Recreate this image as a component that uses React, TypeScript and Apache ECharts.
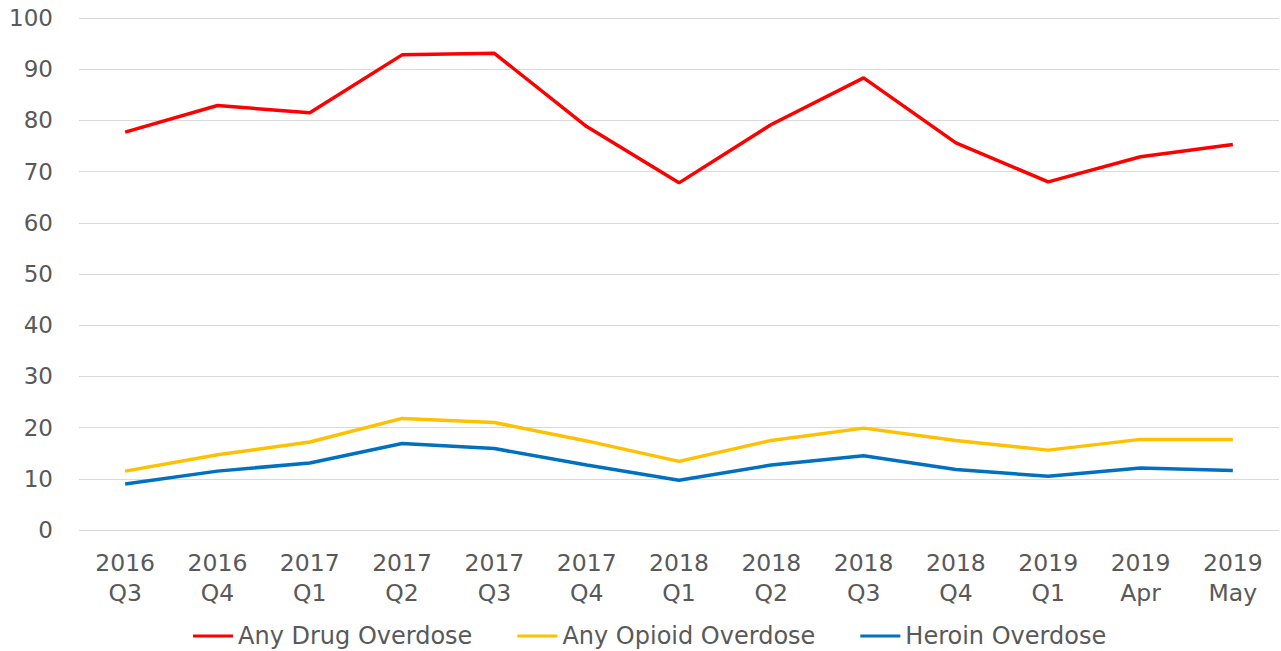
import React, { useEffect, useRef } from "react";
import * as echarts from "echarts";

const categories = [
  "2016\nQ3", "2016\nQ4", "2017\nQ1", "2017\nQ2", "2017\nQ3", "2017\nQ4",
  "2018\nQ1", "2018\nQ2", "2018\nQ3", "2018\nQ4", "2019\nQ1", "2019\nApr", "2019\nMay",
];
const anyDrug = [77.7, 82.9, 81.5, 92.8, 93.1, 78.8, 67.8, 79.2, 88.3, 75.6, 68.0, 72.9, 75.3];
const anyOpioid = [11.5, 14.7, 17.2, 21.8, 21.0, 17.4, 13.4, 17.5, 19.9, 17.5, 15.6, 17.7, 17.7];
const heroin = [9.0, 11.5, 13.1, 16.9, 15.9, 12.7, 9.7, 12.7, 14.5, 11.8, 10.5, 12.1, 11.6];

const FONT = "DejaVu Sans, Verdana, sans-serif";
const GRAY = "#595959";

export default function App() {
  const ref = useRef<HTMLDivElement>(null);
  useEffect(() => {
    const chart = echarts.init(ref.current!, undefined, { renderer: "svg" });
    const mk = (name: string, data: number[], color: string) => ({
      name,
      type: "line",
      data,
      symbol: "none",
      lineStyle: { color, width: 3.5 },
      itemStyle: { color },
    });
    chart.setOption({
      animation: false,
      grid: { left: 79, right: 2, top: 18, bottom: 121, containLabel: false },
      legend: {
        top: 624,
        left: 193,
        icon: "rect",
        itemWidth: 40,
        itemHeight: 3,
        itemGap: 45,
        padding: 0,
        textStyle: { color: GRAY, fontSize: 24, fontFamily: FONT },
        data: ["Any Drug Overdose", "Any Opioid Overdose", "Heroin Overdose"],
      },
      xAxis: {
        type: "category",
        data: categories,
        boundaryGap: true,
        axisLine: { show: false },
        axisTick: { show: false },
        axisLabel: {
          color: GRAY,
          fontSize: 23.5,
          fontFamily: FONT,
          lineHeight: 30,
          margin: 18,
          interval: 0,
        },
      },
      yAxis: {
        type: "value",
        min: 0,
        max: 100,
        interval: 10,
        axisLine: { show: false },
        axisTick: { show: false },
        splitLine: { lineStyle: { color: "#d9d9d9", width: 1 } },
        axisLabel: { color: GRAY, fontSize: 23, fontFamily: FONT, margin: 26 },
      },
      series: [
        mk("Any Drug Overdose", anyDrug, "#FF0000"),
        mk("Any Opioid Overdose", anyOpioid, "#FFC000"),
        mk("Heroin Overdose", heroin, "#0070C0"),
      ],
    });
    return () => chart.dispose();
  }, []);
  return (
    <div
      ref={ref}
      style={{ position: "absolute", left: 0, top: 0, width: 1281, height: 651 }}
    />
  );
}
